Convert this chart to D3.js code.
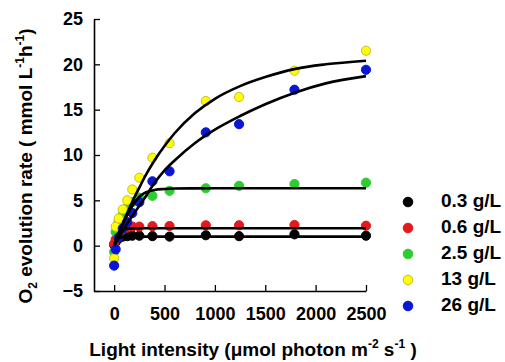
<!DOCTYPE html>
<html>
<head>
<meta charset="utf-8">
<script src="https://cdn.jsdelivr.net/npm/d3@7"></script>
<style>
  body { margin: 0; background: #fff; }
  text { font-family: "Liberation Sans", Arial, sans-serif; font-weight: bold; fill: #000; }
</style>
</head>
<body>
<div id="chart"></div>
<script>
// measured light intensities (umol photon m-2 s-1)
const lightX = [0, 15, 45, 85, 130, 180, 250, 380, 550, 910, 1240, 1790, 2500];

// O2 evolution rate per cell density
const rate03 = [0.1, 0.4, 0.8, 1.0, 1.05, 1.1, 1.1, 1.05, 1.0, 1.15, 1.05, 1.25, 1.1];
const rate06 = [0.2, 0.7, 1.3, 1.8, 2.0, 2.1, 2.1, 2.15, 2.17, 2.25, 2.25, 2.28, 2.2];
const rate25 = [-0.7, 1.5, 2.6, 3.4, 4.2, 4.8, 5.3, 5.5, 6.05, 6.33, 6.6, 6.8, 6.95];
const rate13 = [-1.4, 2.1, 3.0, 4.0, 5.0, 6.2, 7.5, 9.7, 11.3, 15.95, 16.4, 19.3, 21.5];
const rate26 = [-2.2, -0.4, 0.9, 1.9, 2.6, 3.6, 4.8, 7.1, 8.2, 12.5, 13.4, 17.2, 19.4];

// fitted curves
const fitX  = [0, 25, 50, 100, 150, 200, 250, 300, 400, 500, 600, 800, 1000, 1250, 1500, 1800, 2100, 2500];
const fit03 = [0, 0.6, 0.85, 0.97, 1.0, 1.0, 1.0, 1.0, 1.0, 1.0, 1.0, 1.0, 1.0, 1.0, 1.0, 1.0, 1.0, 1.0];
const fit06 = [0, 1.0, 1.5, 1.8, 1.88, 1.9, 1.91, 1.92, 1.92, 1.92, 1.92, 1.92, 1.92, 1.92, 1.92, 1.92, 1.92, 1.92];
const fit25 = [0, 0.7, 1.4, 2.7, 3.8, 4.7, 5.4, 5.8, 6.15, 6.25, 6.3, 6.32, 6.33, 6.33, 6.33, 6.33, 6.33, 6.33];
const fit13 = [0, 0.7, 1.4, 2.8, 4.1, 5.3, 6.4, 7.5, 9.4, 11.0, 12.4, 14.6, 16.2, 17.6, 18.6, 19.5, 20.0, 20.4];
const fit26 = [0, 0.5, 0.95, 1.9, 2.8, 3.6, 4.4, 5.2, 6.9, 8.3, 9.4, 11.3, 12.8, 14.3, 15.6, 16.9, 17.9, 18.7];

const seriesNames = ['0.3 g/L', '0.6 g/L', '2.5 g/L', '13 g/L', '26 g/L'];
const xTicks = [0, 500, 1000, 1500, 2000, 2500];
const yTicks = [-5, 0, 5, 10, 15, 20, 25];

const colors = ['#000000', '#e3191c', '#2fcc2f', '#ffff00', '#0a16d6'];
const strokes = ['#000000', '#e3191c', '#2fcc2f', '#c9bb2a', '#0a16d6'];

const width = 505, height = 362;

const svg = d3.select('#chart').append('svg')
  .attr('width', width)
  .attr('height', height);

const x = d3.scaleLinear().domain([-200, 2500]).range([94, 366]);
const y = d3.scaleLinear().domain([-5, 25]).range([291, 19]);

// axes (ticks point inward)
const xAxis = svg.append('g')
  .attr('transform', `translate(0,${y(-5)})`)
  .call(d3.axisBottom(x).tickValues(xTicks).tickFormat(d3.format('d')).tickSize(-6).tickSizeOuter(0).tickPadding(16));
xAxis.select('.domain').attr('stroke-width', 1.6);
xAxis.selectAll('.tick line').attr('stroke-width', 1.3);
xAxis.selectAll('.tick text').attr('font-size', 18).attr('dy', '0.7em');

const yAxis = svg.append('g')
  .attr('transform', `translate(${x(-200)},0)`)
  .call(d3.axisLeft(y).tickValues(yTicks).tickSize(-6).tickSizeOuter(0).tickPadding(11));
yAxis.select('.domain').attr('stroke-width', 1.6);
yAxis.selectAll('.tick line').attr('stroke-width', 1.3);
yAxis.selectAll('.tick text').attr('font-size', 18);
svg.selectAll('.tick text').style('font-family', '"Liberation Sans", Arial, sans-serif').style('font-weight', 'bold');

// data points
const rates = [rate03, rate06, rate25, rate13, rate26];
const fits = [fit03, fit06, fit25, fit13, fit26];

rates.forEach((vals, i) => {
  svg.append('g').selectAll('circle')
    .data(vals)
    .enter()
    .append('circle')
    .attr('cx', (d, j) => x(lightX[j]))
    .attr('cy', d => y(d))
    .attr('r', 4.6)
    .attr('fill', colors[i])
    .attr('stroke', strokes[i])
    .attr('stroke-width', 1);
});

// fitted curves
const line = d3.line()
  .x((d, j) => x(fitX[j]))
  .y(d => y(d))
  .curve(d3.curveMonotoneX);

fits.forEach(vals => {
  svg.append('path')
    .attr('d', line(vals))
    .attr('fill', 'none')
    .attr('stroke', '#000')
    .attr('stroke-width', 2.6);
});

// legend
const legend = svg.append('g');
seriesNames.forEach((name, i) => {
  const ly = 202 + i * 26;
  legend.append('circle')
    .attr('cx', 408).attr('cy', ly).attr('r', 4.8)
    .attr('fill', colors[i]).attr('stroke', strokes[i]).attr('stroke-width', 1);
  legend.append('text')
    .attr('x', 441).attr('y', ly)
    .attr('dominant-baseline', 'middle')
    .attr('font-size', 19)
    .text(name);
});

// y title
const yt = svg.append('text')
  .attr('transform', 'translate(32,166) rotate(-90)')
  .attr('text-anchor', 'middle')
  .attr('font-size', 19);
yt.append('tspan').text('O');
yt.append('tspan').attr('font-size', 12).attr('dy', 5).text('2');
yt.append('tspan').attr('dy', -5).text(' evolution rate ( mmol L');
yt.append('tspan').attr('font-size', 12).attr('dy', -8).text('-1');
yt.append('tspan').attr('dy', 8).text('h');
yt.append('tspan').attr('font-size', 12).attr('dy', -8).text('-1');
yt.append('tspan').attr('dy', 8).text(')');

// x title
const xt = svg.append('text')
  .attr('x', 253).attr('y', 356)
  .attr('text-anchor', 'middle')
  .attr('font-size', 19);
xt.append('tspan').text('Light intensity (\u03bcmol photon m');
xt.append('tspan').attr('font-size', 12).attr('dy', -8).text('-2');
xt.append('tspan').attr('dy', 8).text(' s');
xt.append('tspan').attr('font-size', 12).attr('dy', -8).text('-1');
xt.append('tspan').attr('dy', 8).text(' )');
</script>
</body>
</html>
